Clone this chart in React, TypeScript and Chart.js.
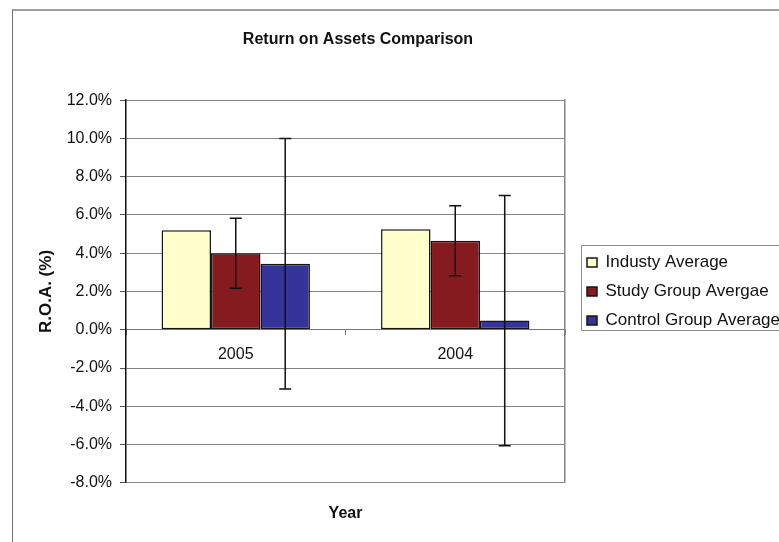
import { useEffect, useRef } from 'react';
import { Chart, registerables } from 'chart.js';

Chart.register(...registerables);

// ---- data ----
const years = ['2005', '2004'];
const industryAverage = [5.2, 5.25];
const studyGroupAverage = [4.0, 4.65];
const controlGroupAverage = [3.45, 0.48];
const studyGroupError = [1.83, 1.83];
const controlGroupError = [6.55, 6.54];
const seriesNames = ['Industy Average', 'Study Group Avergae', 'Control Group Average'];
const seriesColors = ['#FFFFCC', '#861b1f', '#34349a'];
const yMin = -8;
const yMax = 12;
const yStep = 2;

const FONT = "'Liberation Sans', Arial, sans-serif";

const errorBarPlugin = {
  id: 'errorBars',
  afterDatasetsDraw(chart: any) {
    const { ctx } = chart;
    const y = chart.scales.y;
    chart.data.datasets.forEach((ds: any, i: number) => {
      if (!ds.errors) return;
      const meta = chart.getDatasetMeta(i);
      meta.data.forEach((el: any, j: number) => {
        const v = ds.data[j];
        const e = ds.errors[j];
        const top = y.getPixelForValue(v + e);
        const bot = y.getPixelForValue(v - e);
        ctx.save();
        ctx.strokeStyle = '#111';
        ctx.lineWidth = 1.5;
        ctx.beginPath();
        ctx.moveTo(el.x, top);
        ctx.lineTo(el.x, bot);
        ctx.moveTo(el.x - 6, top);
        ctx.lineTo(el.x + 6, top);
        ctx.moveTo(el.x - 6, bot);
        ctx.lineTo(el.x + 6, bot);
        ctx.stroke();
        ctx.restore();
      });
    });
  },
};

const legendFramePlugin = {
  id: 'legendFrame',
  afterLayout(chart: any) {
    const lg = chart.legend;
    if (lg) {
      lg.right = chart.width + 20;
      lg.width = lg.right - lg.left;
    }
  },
  beforeDraw(chart: any) {
    const lg = chart.legend;
    const hb = lg && lg.legendHitBoxes;
    if (!hb || !hb.length) return;
    const { ctx } = chart;
    const first = hb[0];
    const last = hb[hb.length - 1];
    const left = Math.round(first.left - 6) + 0.5;
    const top = Math.round(first.top + first.height / 2 - 18) + 0.5;
    const bottom = Math.round(last.top + last.height / 2 + 9) + 0.5;
    ctx.save();
    ctx.fillStyle = '#ffffff';
    ctx.strokeStyle = '#8c8c8c';
    ctx.lineWidth = 1;
    ctx.fillRect(left, top, chart.width + 10 - left, bottom - top);
    ctx.strokeRect(left, top, chart.width + 10 - left, bottom - top);
    ctx.restore();
  },
};

export default function App() {
  const ref = useRef<HTMLCanvasElement>(null);

  useEffect(() => {
    const makeDs = (i: number, data: number[], errors?: number[]) =>
      ({
        label: seriesNames[i],
        data,
        errors,
        backgroundColor: seriesColors[i],
        borderColor: '#151515',
        borderWidth: 1.5,
        borderSkipped: false,
        xAxisID: 'x',
        yAxisID: 'y',
      }) as any;

    const chart = new Chart(ref.current as HTMLCanvasElement, {
      type: 'bar',
      data: {
        labels: years,
        datasets: [
          makeDs(0, industryAverage),
          makeDs(1, studyGroupAverage, studyGroupError),
          makeDs(2, controlGroupAverage, controlGroupError),
        ],
      },
      options: {
        responsive: false,
        animation: false,
        devicePixelRatio: 1,
        layout: { padding: { left: 0, right: 63, top: 0, bottom: 0 } },
        datasets: { bar: { categoryPercentage: 0.676, barPercentage: 1 } },
        plugins: {
          title: {
            display: true,
            text: 'Return on Assets Comparison',
            font: { family: FONT, size: 16, weight: 'bold' },
            color: '#111',
            padding: { top: 30, bottom: 51 },
          },
          legend: {
            position: 'right',
            fullSize: false,
            maxWidth: 141,
            labels: {
              boxWidth: 10,
              boxHeight: 9,
              padding: 12,
              color: '#111',
              font: { family: FONT, size: 17 },
            },
          },
          tooltip: { enabled: false },
        },
        scales: {
          x: {
            type: 'category',
            position: { y: 0 } as any,
            offset: true,
            grid: {
              display: true,
              drawOnChartArea: false,
              drawTicks: true,
              tickLength: 5,
              offset: true,
              color: '#777',
            },
            border: { display: true, color: '#777', width: 1 },
            ticks: { color: '#111', font: { family: FONT, size: 16 }, padding: 10 },
          },
          x2: {
            type: 'category',
            position: 'bottom',
            grid: { display: false, drawTicks: false },
            border: { display: false },
            ticks: { display: false },
            title: {
              display: true,
              text: 'Year',
              font: { family: FONT, size: 16, weight: 'bold' },
              color: '#111',
              padding: { top: 21, bottom: 19 },
            },
          },
          y: {
            type: 'linear',
            position: 'left',
            min: yMin,
            max: yMax,
            ticks: {
              stepSize: yStep,
              callback: (v: any) => Number(v).toFixed(1) + '%',
              padding: 8,
              color: '#111',
              font: { family: FONT, size: 16 },
            },
            grid: { color: '#858585', tickLength: 6, tickColor: '#555' },
            border: { color: '#111', width: 1.5 },
            title: {
              display: true,
              text: 'R.O.A. (%)',
              font: { family: FONT, size: 17, weight: 'bold' },
              color: '#111',
              padding: { top: 36, bottom: 0 },
            },
            afterFit: (s: any) => {
              s.width = 126;
            },
          },
          yr: {
            type: 'linear',
            position: 'right',
            min: yMin,
            max: yMax,
            grid: { display: false, drawTicks: false },
            ticks: { display: false },
            border: { display: true, color: '#858585', width: 1.5 },
            afterFit: (s: any) => {
              s.width = 10;
            },
          },
        },
      } as any,
      plugins: [errorBarPlugin, legendFramePlugin],
    });
    return () => chart.destroy();
  }, []);

  return (
    <div
      style={{
        position: 'absolute',
        left: 0,
        top: 0,
        width: 779,
        height: 542,
        overflow: 'hidden',
        background: '#fff',
      }}
    >
      <div
        style={{
          position: 'absolute',
          left: 12,
          top: 9,
          right: -10,
          bottom: -10,
          borderLeft: '1px solid #707070',
          borderTop: '2px solid #a0a0a0',
        }}
      />
      <canvas
        ref={ref}
        width={779}
        height={542}
        style={{ position: 'absolute', left: 0, top: 0, width: 779, height: 542 }}
      />
    </div>
  );
}
